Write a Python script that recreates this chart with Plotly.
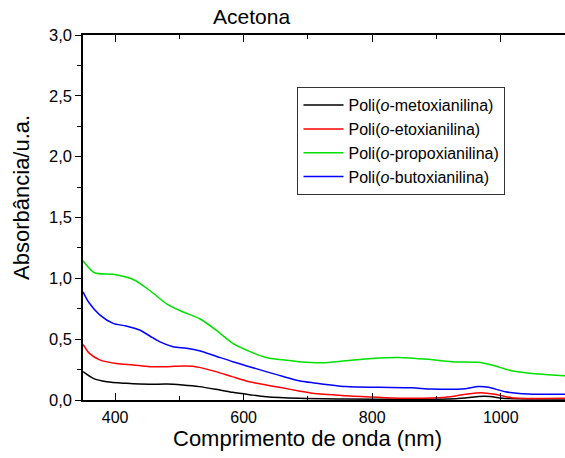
import plotly.graph_objects as go

# Poli(o-metoxianilina)
met_x = [350, 366, 387, 418, 454, 480, 505, 531, 557, 583, 609, 635, 686, 760, 850, 930, 975, 1010, 1100]
met_y = [0.233, 0.178, 0.150, 0.137, 0.129, 0.131, 0.123, 0.110, 0.088, 0.063, 0.044, 0.027, 0.014, 0.008, 0.006, 0.010, 0.030, 0.012, 0.008]

# Poli(o-etoxianilina)
et_x = [350, 360, 376, 402, 428, 454, 480, 505, 521, 531, 557, 583, 609, 635, 660, 686, 707, 759, 810, 862, 914, 945, 970, 991, 1017, 1100]
et_y = [0.457, 0.383, 0.330, 0.300, 0.288, 0.274, 0.274, 0.280, 0.278, 0.268, 0.233, 0.190, 0.150, 0.123, 0.100, 0.074, 0.055, 0.035, 0.022, 0.014, 0.022, 0.047, 0.060, 0.047, 0.019, 0.014]

# Poli(o-propoxianilina)
prop_x = [350, 368, 397, 428, 454, 480, 505, 531, 557, 583, 609, 635, 660, 686, 722, 759, 800, 841, 888, 924, 965, 986, 1017, 1058, 1100]
prop_y = [1.145, 1.046, 1.033, 0.990, 0.900, 0.790, 0.725, 0.670, 0.575, 0.466, 0.400, 0.350, 0.330, 0.315, 0.306, 0.323, 0.342, 0.350, 0.334, 0.315, 0.310, 0.288, 0.240, 0.213, 0.200]

# Poli(o-butoxianilina)
but_x = [350, 360, 376, 397, 417, 438, 454, 469, 490, 511, 531, 557, 583, 609, 635, 660, 686, 707, 759, 810, 862, 893, 945, 965, 981, 1007, 1043, 1100]
but_y = [0.890, 0.795, 0.700, 0.630, 0.608, 0.575, 0.526, 0.480, 0.438, 0.425, 0.405, 0.360, 0.315, 0.274, 0.233, 0.195, 0.159, 0.142, 0.110, 0.104, 0.100, 0.090, 0.093, 0.110, 0.104, 0.068, 0.050, 0.047]

series = [
    ("Poli(<i>o</i>-metoxianilina)", met_x, met_y, "#000000"),
    ("Poli(<i>o</i>-etoxianilina)", et_x, et_y, "#ff0000"),
    ("Poli(<i>o</i>-propoxianilina)", prop_x, prop_y, "#00e000"),
    ("Poli(<i>o</i>-butoxianilina)", but_x, but_y, "#0000ff"),
]

fig = go.Figure()
for name, xs, ys, col in series:
    fig.add_trace(go.Scatter(x=xs, y=ys, mode="lines", name=name,
                             line=dict(color=col, width=1.5, shape="spline", smoothing=0.8)))

font = "Liberation Sans, Arial, sans-serif"
fig.update_layout(
    width=565, height=458,
    margin=dict(l=83, r=0, t=35, b=58),
    paper_bgcolor="white", plot_bgcolor="white",
    separators=",.",
    font=dict(family=font, size=16, color="#000"),
    showlegend=True,
    legend=dict(x=0.445, y=0.857, xanchor="left", yanchor="top",
                bordercolor="#333", borderwidth=1, bgcolor="white",
                font=dict(size=16), tracegroupgap=0, itemwidth=40),
    annotations=[
        dict(text="Acetona", x=0.349, y=1, xref="paper", yref="paper",
             xanchor="center", yanchor="bottom", yshift=5, showarrow=False,
             font=dict(size=21)),
        dict(text="Comprimento de onda (nm)", x=0.466, y=0, xref="paper", yref="paper",
             xanchor="center", yanchor="top", yshift=-24, showarrow=False,
             font=dict(size=22)),
        dict(text="Absorbância/u.a.", x=0, y=0.555, xref="paper", yref="paper",
             xanchor="right", yanchor="middle", xshift=-47, showarrow=False,
             textangle=-90, font=dict(size=22)),
    ],
)
fig.update_xaxes(range=[350, 1100], dtick=200, tick0=400, ticks="inside", ticklen=7,
                 tickcolor="#000", showline=True, linecolor="#000", linewidth=1.5,
                 mirror="ticks", showgrid=False, zeroline=False,
                 minor=dict(dtick=100, tick0=400, ticks="inside", ticklen=4, tickcolor="#000"),
                 tickfont=dict(size=16), ticklabelstandoff=2)
fig.update_yaxes(range=[0, 3.0], dtick=0.5, tickformat=".1f", ticks="outside", ticklen=6,
                 tickcolor="#000", showline=True, linecolor="#000", linewidth=1.5,
                 showgrid=False, zeroline=False,
                 minor=dict(dtick=0.25, ticks="outside", ticklen=4, tickcolor="#000"),
                 tickfont=dict(size=16.5))

fig.write_html("out.html", config={"displayModeBar": False},
               post_script="document.body.style.margin='0';")
